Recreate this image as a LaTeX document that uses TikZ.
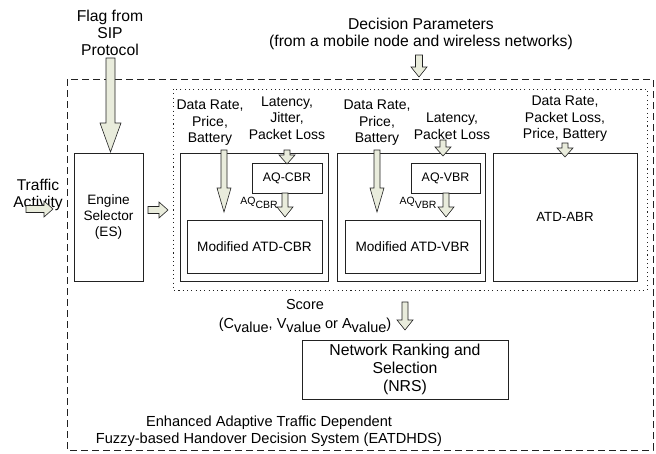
\documentclass[tikz,border=0pt]{standalone}
\usepackage{fontspec}
\setmainfont{Liberation Sans}
\definecolor{arrfill}{HTML}{E9ECDC}
\definecolor{linec}{HTML}{222222}
\newcommand{\fs}[2]{\fontsize{#1}{#2}\selectfont}
\newcommand{\lowr}[1]{\raisebox{-0.28em}{#1}}
% vertical block arrow: x, ytop, ytip, shaft half, head half, head length
\newcommand{\vblock}[6]{%
  \filldraw[barrow] (#1-#4,#2) -- (#1+#4,#2) -- (#1+#4,#3-#6) -- (#1+#5,#3-#6)
    -- (#1,#3) -- (#1-#5,#3-#6) -- (#1-#4,#3-#6) -- cycle;}
% horizontal block arrow: y, xstart, xtip, shaft half, head half, head length
\newcommand{\hblock}[6]{%
  \filldraw[barrow] (#2,#1-#4) -- (#3-#6,#1-#4) -- (#3-#6,#1-#5) -- (#3,#1)
    -- (#3-#6,#1+#5) -- (#3-#6,#1+#4) -- (#2,#1+#4) -- cycle;}
\begin{document}
\begin{tikzpicture}[x=1pt,y=-1pt,
  box/.style={draw=linec, line width=0.9pt, inner sep=0pt, align=center},
  barrow/.style={draw=linec, fill=arrfill, line width=0.6pt, line join=miter},
  lbl/.style={inner sep=0pt, align=center},
  outlbl/.style={lbl, font=\fs{15.7}{17.5}},
  inlbl/.style={lbl, font=\fs{14}{16.5}},
  boxtxt/.style={font=\fs{13.6}{16}}]
\useasboundingbox (0,0) rectangle (656,453);
\fill[white] (0,0) rectangle (656,453);

% frames
\draw[linec, line width=0.8pt, dash pattern=on 7pt off 4pt] (67,79) rectangle (653,450);
\draw[linec, line width=0.9pt, dash pattern=on 1.1pt off 3.2pt] (173,89) rectangle (647,290);

% boxes
\node[box, boxtxt, minimum width=69pt, minimum height=128pt] (es) at (108.5,217) {Engine\\Selector\\(ES)};
\node[box, minimum width=148pt, minimum height=128pt] (cbr) at (254,217) {};
\node[box, font=\fs{12.4}{14}, minimum width=70pt, minimum height=30pt] (aqcbr) at (287,178) {AQ-CBR};
\node[box, boxtxt, minimum width=135pt, minimum height=53pt] (mcbr) at (254.5,246.5) {Modified ATD-CBR};
\node[box, minimum width=148pt, minimum height=128pt] (vbr) at (411,217) {};
\node[box, font=\fs{12.4}{14}, minimum width=69pt, minimum height=30pt] (aqvbr) at (445.5,178) {AQ-VBR};
\node[box, boxtxt, minimum width=135pt, minimum height=53pt] (mvbr) at (412.5,246.5) {Modified ATD-VBR};
\node[box, font=\fs{13.3}{16}, minimum width=144pt, minimum height=128pt] (abr) at (565,217) {ATD-ABR};
\node[box, font=\fs{15.8}{18}, minimum width=206pt, minimum height=59pt] (nrs) at (405,369.5) {Network Ranking and\\Selection\\(NRS)};

% labels
\node[outlbl, font=\fs{15.7}{17}] (flag) at (110,33) {Flag from\\SIP\\Protocol};
\node[outlbl, font=\fs{15.6}{16.5}] (traffic) at (38,195) {Traffic\\Activity};
\node[outlbl] (decision) at (421,34) {Decision Parameters\\(from a mobile node and wireless networks)};
\node[inlbl] (cbrin) at (210,123) {Data Rate,\\Price,\\Battery};
\node[inlbl] (cbrq) at (287,118) {Latency,\\Jitter,\\Packet Loss};
\node[inlbl] (vbrin) at (377,123) {Data Rate,\\Price,\\Battery};
\node[inlbl] (vbrq) at (452,126) {Latency,\\Packet Loss};
\node[inlbl] (abrin) at (565,119) {Data Rate,\\Packet Loss,\\Price, Battery};
\node[lbl, font=\fs{10.5}{12}] (aqcbrl) at (259,203) {AQ\raisebox{-4pt}{CBR}};
\node[lbl, font=\fs{10.5}{12}] (aqvbrl) at (418,203) {AQ\raisebox{-4pt}{VBR}};
\node[lbl, font=\fs{14.5}{19}] (score) at (305,316) {Score\\(C\lowr{value}, V\lowr{value} or A\lowr{value})};
\node[lbl, font=\fs{14.6}{17}] (eat) at (269,431) {Enhanced Adaptive Traffic Dependent\\Fuzzy-based Handover Decision System (EATDHDS)};

% block arrows
\vblock{110.5}{58}{152}{4.5}{10.5}{29}
\vblock{419}{55}{77}{3.5}{8}{10}
\hblock{209}{26}{53}{3.5}{8}{9}
\hblock{210}{148}{168}{3.5}{8}{9}
\vblock{224}{150}{212}{3}{7}{24}
\vblock{287}{150}{164}{3}{8}{9}
\vblock{285}{193}{217}{3}{8}{10}
\vblock{377}{150}{212}{3}{7}{24}
\vblock{443}{140}{156}{3}{8}{9}
\vblock{446}{193}{217}{3}{8}{10}
\vblock{565}{143}{157}{3}{8}{9}
\vblock{405}{302}{330}{3}{8}{10}
\end{tikzpicture}
\end{document}
